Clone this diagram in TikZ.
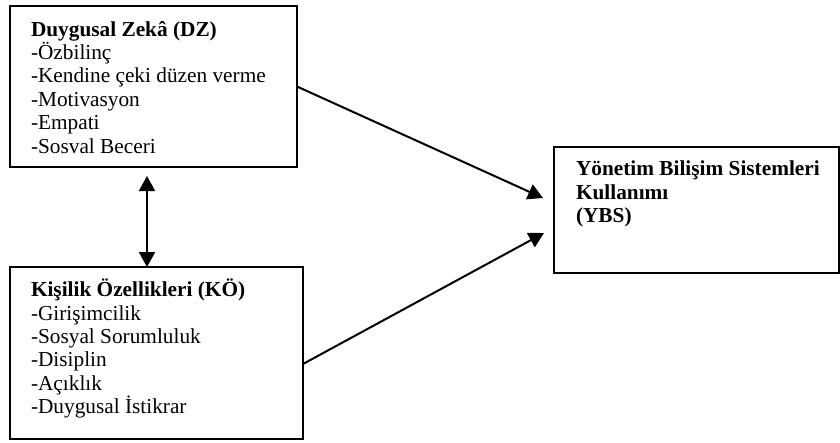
\documentclass[tikz,border=0pt]{standalone}
\usepackage{fontspec}
\setmainfont{Liberation Serif}
\usetikzlibrary{arrows.meta}

\begin{document}
\begin{tikzpicture}[x=1pt,y=-1pt,inner sep=0pt,outer sep=0pt,line width=2pt,
modelbox/.style={draw,rectangle,line width=1.6pt},
boxtext/.style={anchor=north west,align=left,font=\fontsize{21.3}{23.4}\selectfont},
link/.style={-{Triangle[length=15pt,width=16pt]}}]

\useasboundingbox (0,0) rectangle (840,442);

% three boxes of the model
\draw (153.5,86.5) node[modelbox,minimum width=287pt,minimum height=161pt] (dz) {};
\draw (156.5,353) node[modelbox,minimum width=293pt,minimum height=172pt] (ko) {};
\draw (696.5,210) node[modelbox,minimum width=285pt,minimum height=126pt] (ybs) {};

\draw (dz.north west) ++(21,15) node[boxtext] (dztext) {\textbf{Duygusal Zekâ (DZ)}\\-Özbilinç\\-Kendine çeki düzen verme\\-Motivasyon\\-Empati\\-Sosval Beceri};
\draw (ko.north west) ++(21,12) node[boxtext] (kotext) {\textbf{Kişilik Özellikleri (KÖ)}\\-Girişimcilik\\-Sosyal Sorumluluk\\-Disiplin\\-Açıklık\\-Duygusal İstikrar};
\draw (ybs.north west) ++(22,14) node[boxtext] (ybstext) {\textbf{Yönetim Bilişim Sistemleri}\\\textbf{Kullanımı}\\\textbf{(YBS)}};

% relations
\draw[{Triangle[length=15pt,width=16pt]}-{Triangle[length=15pt,width=16pt]}] ([xshift=-9.5pt]ko.north) -- ([xshift=-6.5pt,yshift=-9pt]dz.south);
\draw[link] (dz.east) -- ([xshift=-11pt,yshift=12pt]ybs.west);
\draw[link] ([yshift=-11pt]ko.east) -- ([xshift=-10pt,yshift=-23pt]ybs.west);
\end{tikzpicture}
\end{document}
